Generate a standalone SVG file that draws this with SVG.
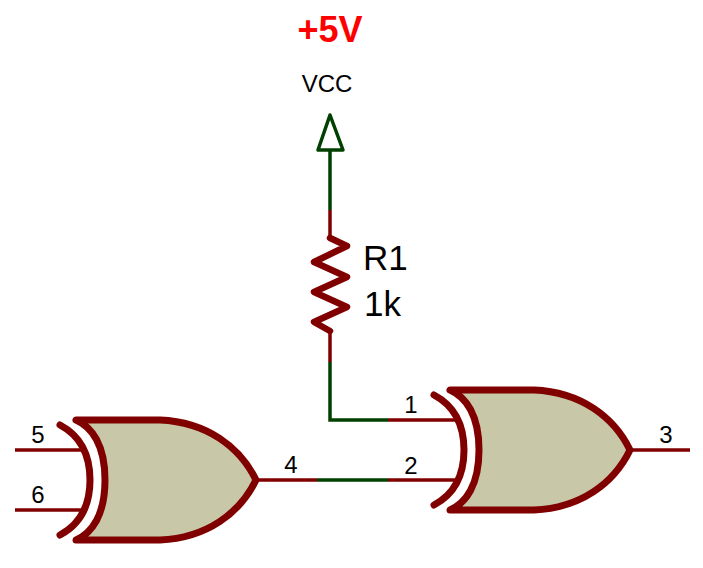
<svg xmlns="http://www.w3.org/2000/svg" width="703" height="568" viewBox="0 0 703 568">
<style>
text{font-family:"Liberation Sans",Arial,sans-serif;fill:#000}
.pin{font-size:24px;text-anchor:middle}
.val{font-size:35px}
.r{fill:none;stroke:#800000;stroke-width:3.5}
.g{fill:none;stroke:#004000;stroke-width:3.5}
.body{fill:#c8c8a8;stroke:#800000;stroke-width:7;stroke-linecap:round;stroke-linejoin:round}
.arc{fill:none;stroke:#800000;stroke-width:7;stroke-linecap:round}
</style>
<defs>
<g id="xor">
<path class="arc" d="M60 425Q90 441 90 480Q90 519 60 535"/>
<path class="body" d="M76 420H160C207 422 240 447 256 480C240 513 207 538 160 540H76C92 533 105 515 105 480C105 445 92 427 76 420Z"/>
</g>
</defs>
<g id="connectors">
<path class="r" d="M15 450H84M15 510H84M256 480H317M388 480H458M388 420H458M630 450H690"/>
<path class="g" d="M317 480H388M388 420H330V362M330 210V150"/>
<path class="r" d="M330 362V331M330 210V238"/>
</g>
<g id="U1B">
<use href="#xor"/>
<text class="pin" x="38" y="443">5</text>
<text class="pin" x="38" y="503">6</text>
<text class="pin" x="291" y="473">4</text>
</g>
<g id="U1A">
<use href="#xor" x="374" y="-30"/>
<text class="pin" x="411" y="413">1</text>
<text class="pin" x="411" y="474">2</text>
<text class="pin" x="666" y="443">3</text>
</g>
<g id="R1">
<path d="M330 238L347 246L314 262L347 277L314 292L347 307L314 322L330 331" fill="none" stroke="#800000" stroke-width="6.5" stroke-linejoin="round" stroke-linecap="round"/>
<text class="val" x="363" y="270">R1</text>
<text class="val" x="364" y="316">1k</text>
</g>
<g id="VCC">
<path d="M330 115L318 150H343Z" fill="#fff" stroke="#004000" stroke-width="3.5" stroke-linejoin="round"/>
<text x="327" y="92" font-size="24" text-anchor="middle">VCC</text>
<text x="330" y="42" font-size="36" font-weight="bold" text-anchor="middle" style="fill:#f00">+5V</text>
</g>
</svg>
